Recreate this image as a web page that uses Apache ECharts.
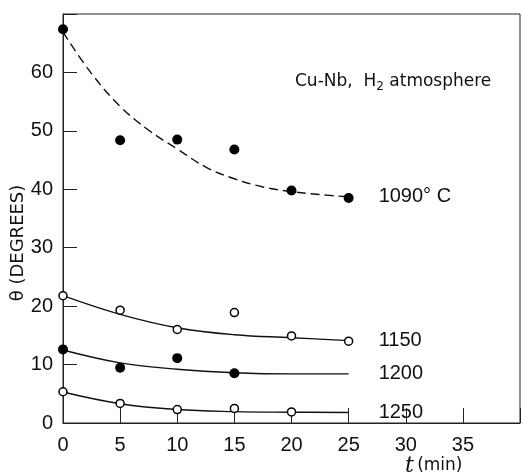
<!DOCTYPE html>
<html>
<head>
<meta charset="utf-8">
<script src="https://cdn.jsdelivr.net/npm/echarts@6/dist/echarts.min.js"></script>
<style>
    html, body { margin: 0; padding: 0; background: #fff; }
    #theta-chart { width: 523px; height: 473px; }
</style>
</head>
<body>
<div id="theta-chart"></div>
<script>
// 测量点 (t, θ)
const pts1090 = [[0, 67.4], [5, 48.4], [10, 48.5], [15, 46.8], [20, 39.8], [25, 38.5]];
const pts1150 = [[0, 21.8], [5, 19.3], [10, 16.0], [15, 18.9], [20, 14.9], [25, 14.0]];
const pts1200 = [[0, 12.6], [5, 9.45], [10, 11.1], [15, 8.5]];
const pts1250 = [[0, 5.35], [5, 3.35], [10, 2.3], [15, 2.5], [20, 1.9]];

// 拟合曲线
const fit1090 = [[0, 66.9], [2.5, 59.8], [5, 54.2], [7.5, 50.1], [10, 46.9], [12.5, 43.8], [15, 41.8], [17.5, 40.4], [20, 39.6], [22.5, 39.1], [25, 38.7]];
const fit1150 = [[0, 21.8], [5, 18.6], [10, 16.3], [15, 15.1], [20, 14.6], [25, 14.1]];
const fit1200 = [[0, 12.5], [5, 10.3], [10, 9.2], [15, 8.6], [20, 8.4], [25, 8.4]];
const fit1250 = [[0, 5.3], [5, 3.3], [10, 2.3], [15, 1.95], [20, 1.85], [25, 1.8]];

const curveNames = ['1090° C', '1150', '1200', '1250'];

const labelFont = "'Liberation Sans', Arial, sans-serif";

renderThetaChart();

function fitSeries(name, data, dashed) {
    return {
        name: name,
        type: 'line',
        data: data,
        smooth: 0.4,
        symbol: 'none',
        lineStyle: {
            color: '#111',
            width: 1.4,
            type: dashed ? [9, 5] : 'solid'
        },
        endLabel: {
            show: true,
            formatter: '{a}',
            distance: 30,
            color: '#111',
            fontSize: 20,
            fontFamily: labelFont
        },
        z: 2
    };
}

function pointSeries(data, filled) {
    return {
        type: 'scatter',
        data: data,
        symbol: 'circle',
        symbolSize: filled ? 10 : 8,
        itemStyle: {
            color: filled ? '#000' : '#fff',
            borderColor: '#000',
            borderWidth: filled ? 0 : 1.5,
            opacity: 1
        },
        z: 3
    };
}

function renderThetaChart() {
    let thetaChart = echarts.init(document.getElementById('theta-chart'));

    let option = {
        animation: false,
        grid: {
            left: 63,
            right: 1,
            top: 14,
            bottom: 50,
            show: true,
            borderColor: '#222',
            borderWidth: 1
        },
        xAxis: {
            type: 'value',
            min: 0,
            max: 40,
            interval: 5,
            axisLine: { lineStyle: { color: '#222', width: 1 } },
            axisTick: { inside: true, length: 15, lineStyle: { color: '#222' } },
            axisLabel: {
                margin: 12,
                color: '#111',
                fontSize: 20,
                fontFamily: labelFont,
                formatter: function (v) { return v >= 40 ? '' : v; }
            },
            splitLine: { show: false }
        },
        yAxis: {
            type: 'value',
            min: 0,
            max: 70,
            interval: 10,
            axisLine: { show: true, lineStyle: { color: '#222', width: 1 } },
            axisTick: { show: true, inside: true, length: 14, lineStyle: { color: '#222' } },
            axisLabel: {
                margin: 10,
                color: '#111',
                fontSize: 20,
                fontFamily: labelFont,
                formatter: function (v) { return v >= 70 ? '' : v; }
            },
            splitLine: { show: false }
        },
        graphic: [
            {
                type: 'text',
                x: 18,
                y: 243,
                rotation: Math.PI / 2,
                style: {
                    text: 'θ (DEGREES)',
                    fill: '#111',
                    fontSize: 18,
                    fontFamily: "'DejaVu Sans', sans-serif",
                    align: 'center',
                    verticalAlign: 'middle'
                }
            },
            {
                type: 'text',
                x: 405,
                y: 466,
                style: {
                    text: '{t|t} {m|(min)}',
                    verticalAlign: 'middle',
                    rich: {
                        t: { fontSize: 22, fontStyle: 'italic', fontFamily: "'DejaVu Serif', serif", fill: '#111' },
                        m: { fontSize: 17, fontFamily: "'DejaVu Sans', sans-serif", fill: '#111' }
                    }
                }
            },
            {
                type: 'text',
                x: 295,
                y: 82,
                style: {
                    text: '{n|Cu-Nb,  H}{s|2}{n| atmosphere}',
                    verticalAlign: 'middle',
                    rich: {
                        n: { fontSize: 17, fontFamily: "'DejaVu Sans', sans-serif", fill: '#111' },
                        s: { fontSize: 12, fontFamily: "'DejaVu Sans', sans-serif", fill: '#111', padding: [9, 0, 0, 0] }
                    }
                }
            }
        ],
        series: [
            fitSeries(curveNames[0], fit1090, true),
            fitSeries(curveNames[1], fit1150, false),
            fitSeries(curveNames[2], fit1200, false),
            fitSeries(curveNames[3], fit1250, false),
            pointSeries(pts1090, true),
            pointSeries(pts1150, false),
            pointSeries(pts1200, true),
            pointSeries(pts1250, false)
        ]
    };

    thetaChart.setOption(option);
}
</script>
</body>
</html>
